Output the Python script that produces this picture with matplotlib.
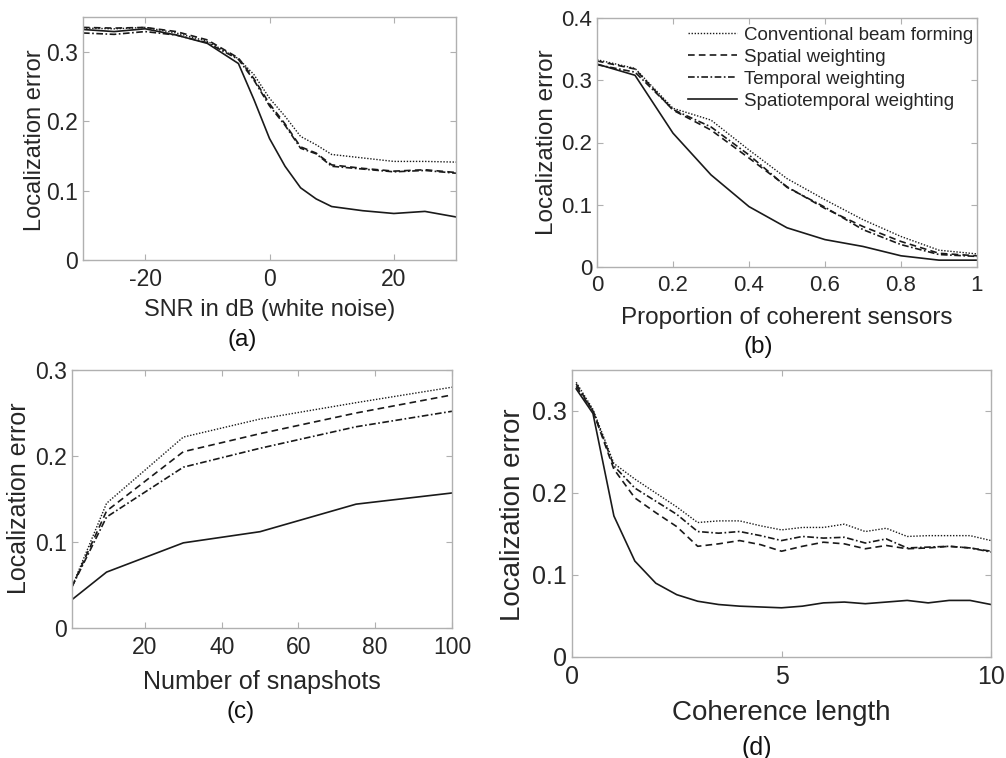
import matplotlib
matplotlib.use("Agg")
import matplotlib.pyplot as plt

plt.rcParams['font.family'] = ['Liberation Sans', 'DejaVu Sans']
plt.rcParams['axes.unicode_minus'] = False

# ---------------- data ----------------
series_names = ["Conventional beam forming", "Spatial weighting",
                "Temporal weighting", "Spatiotemporal weighting"]

# (a) SNR
snr_db = [-30, -25, -20, -15, -10, -5, -2.5, 0, 2.5, 5, 7.5, 10, 15, 20, 25, 30]
a_conv = [0.334, 0.333, 0.335, 0.327, 0.315, 0.290, 0.267, 0.233, 0.207, 0.178, 0.166, 0.152, 0.147, 0.142, 0.142, 0.141]
a_spat = [0.335, 0.334, 0.335, 0.329, 0.317, 0.291, 0.261, 0.225, 0.196, 0.163, 0.154, 0.137, 0.132, 0.128, 0.130, 0.126]
a_temp = [0.327, 0.325, 0.329, 0.324, 0.313, 0.289, 0.259, 0.222, 0.194, 0.161, 0.153, 0.135, 0.131, 0.127, 0.129, 0.125]
a_st   = [0.332, 0.329, 0.333, 0.324, 0.312, 0.283, 0.231, 0.175, 0.135, 0.104, 0.088, 0.077, 0.071, 0.067, 0.070, 0.062]

# (b) proportion of coherent sensors
prop = [0.0, 0.1, 0.2, 0.3, 0.4, 0.5, 0.6, 0.7, 0.8, 0.9, 1.0]
b_conv = [0.333, 0.319, 0.255, 0.236, 0.188, 0.142, 0.108, 0.076, 0.049, 0.027, 0.021]
b_spat = [0.331, 0.318, 0.252, 0.220, 0.175, 0.129, 0.094, 0.065, 0.041, 0.022, 0.018]
b_temp = [0.325, 0.313, 0.253, 0.225, 0.180, 0.128, 0.096, 0.060, 0.036, 0.020, 0.017]
b_st   = [0.326, 0.308, 0.215, 0.148, 0.097, 0.063, 0.044, 0.033, 0.018, 0.011, 0.011]

# (c) number of snapshots
snaps = [1, 10, 30, 50, 75, 100]
c_conv = [0.048, 0.145, 0.222, 0.243, 0.262, 0.280]
c_spat = [0.048, 0.136, 0.205, 0.226, 0.250, 0.271]
c_temp = [0.048, 0.129, 0.187, 0.209, 0.234, 0.252]
c_st   = [0.033, 0.065, 0.099, 0.112, 0.144, 0.157]

# (d) coherence length
coh = [0.1, 0.5, 1, 1.5, 2, 2.5, 3, 3.5, 4, 4.5, 5, 5.5, 6, 6.5, 7, 7.5, 8, 8.5, 9, 9.5, 10]
d_conv = [0.335, 0.302, 0.236, 0.217, 0.200, 0.183, 0.164, 0.166, 0.166, 0.160, 0.155, 0.158, 0.158, 0.162, 0.153, 0.157, 0.147, 0.148, 0.148, 0.148, 0.142]
d_spat = [0.333, 0.300, 0.229, 0.194, 0.176, 0.159, 0.135, 0.138, 0.142, 0.137, 0.129, 0.135, 0.140, 0.138, 0.132, 0.136, 0.132, 0.133, 0.135, 0.133, 0.129]
d_temp = [0.330, 0.300, 0.233, 0.206, 0.190, 0.174, 0.153, 0.151, 0.153, 0.148, 0.142, 0.147, 0.145, 0.146, 0.139, 0.144, 0.133, 0.134, 0.135, 0.133, 0.128]
d_st   = [0.327, 0.297, 0.172, 0.117, 0.090, 0.076, 0.068, 0.064, 0.062, 0.061, 0.060, 0.062, 0.066, 0.067, 0.065, 0.067, 0.069, 0.066, 0.069, 0.069, 0.064]

# ---------------- styling ----------------
LINE = '#1a1a1a'
SPINE = '#b0b0b0'
TXT = '#262626'
styles = [dict(linestyle=(0, (1, 1.2)), lw=1.0),
          dict(linestyle=(0, (4, 2.5)), lw=1.2),
          dict(linestyle=(0, (4, 1.5, 1, 1.5)), lw=1.2),
          dict(linestyle='-', lw=1.2)]

W, H = 1006, 758
fig = plt.figure(figsize=(W / 100, H / 100), dpi=100)


def px_axes(l, t, r, b):
    return fig.add_axes([l / W, 1 - b / H, (r - l) / W, (b - t) / H])


def style_axes(ax, tick_fs, label_fs, xlabel, xl_y, yl_x, yl_y, xpad):
    for s in ax.spines.values():
        s.set_color(SPINE)
        s.set_linewidth(1.0)
    ax.tick_params(direction='in', top=True, right=True, colors=SPINE,
                   labelcolor=TXT, labelsize=tick_fs, length=4, width=0.8)
    ax.tick_params(axis='x', pad=xpad)
    ax.set_xlabel(xlabel, fontsize=label_fs, color=TXT, va='center')
    ax.xaxis.set_label_coords(0.5, xl_y)
    ax.set_ylabel('Localization error', fontsize=label_fs, color=TXT, va='center')
    ax.yaxis.set_label_coords(yl_x, yl_y)


def plot_all(ax, x, ys):
    lines = []
    for y, st, name in zip(ys, styles, series_names):
        ln, = ax.plot(x, y, color=LINE, label=name, **st)
        lines.append(ln)
    return lines


# (a)
axa = px_axes(83, 17, 456, 260)
plot_all(axa, snr_db, [a_conv, a_spat, a_temp, a_st])
axa.set_xlim(-30, 30)
axa.set_ylim(0, 0.35)
axa.set_xticks([-20, 0, 20])
axa.set_yticks([0, 0.1, 0.2, 0.3])
axa.set_yticklabels(['0', '0.1', '0.2', '0.3'])
style_axes(axa, 16.5, 17, 'SNR in dB (white noise)', -0.206, -0.129, 0.494, 6)

# (b)
axb = px_axes(597, 18, 977, 267)
lines_b = plot_all(axb, prop, [b_conv, b_spat, b_temp, b_st])
axb.set_xlim(0, 1)
axb.set_ylim(0, 0.4)
axb.set_xticks([0, 0.2, 0.4, 0.6, 0.8, 1])
axb.set_xticklabels(['0', '0.2', '0.4', '0.6', '0.8', '1'])
axb.set_yticks([0, 0.1, 0.2, 0.3, 0.4])
axb.set_yticklabels(['0', '0.1', '0.2', '0.3', '0.4'])
style_axes(axb, 16, 17.5, 'Proportion of coherent sensors', -0.205, -0.132, 0.5, 6)
leg = axb.legend(loc='upper left', bbox_to_anchor=(0.24, 0.965), frameon=False,
                 fontsize=13.5, handlelength=2.6, handletextpad=0.35,
                 labelspacing=0.26, borderpad=0, borderaxespad=0)
for t in leg.get_texts():
    t.set_color(TXT)

# (c)
axc = px_axes(72, 370, 452, 628)
plot_all(axc, snaps, [c_conv, c_spat, c_temp, c_st])
axc.set_xlim(1, 100)
axc.set_ylim(0, 0.3)
axc.set_xticks([20, 40, 60, 80, 100])
axc.set_yticks([0, 0.1, 0.2, 0.3])
axc.set_yticklabels(['0', '0.1', '0.2', '0.3'])
style_axes(axc, 16.5, 18, 'Number of snapshots', -0.209, -0.139, 0.504, 6)

# (d)
axd = px_axes(572, 370, 991, 657)
plot_all(axd, coh, [d_conv, d_spat, d_temp, d_st])
axd.set_xlim(0, 10)
axd.set_ylim(0, 0.35)
axd.set_xticks([0, 5, 10])
axd.set_yticks([0, 0.1, 0.2, 0.3])
axd.set_yticklabels(['0', '0.1', '0.2', '0.3'])
style_axes(axd, 18, 20, 'Coherence length', -0.195, -0.141, 0.495, 5.5)

# panel letters
for lab, (cx, cy), fs in [('(a)', (242, 340), 17.5), ('(b)', (758, 347), 17.5),
                          ('(c)', (241, 712), 17.5), ('(d)', (757, 748), 18)]:
    fig.text(cx / W, 1 - cy / H, lab, ha='center', va='center', fontsize=fs, color='#111111')

fig.savefig('out.png', dpi=100, facecolor='white')
